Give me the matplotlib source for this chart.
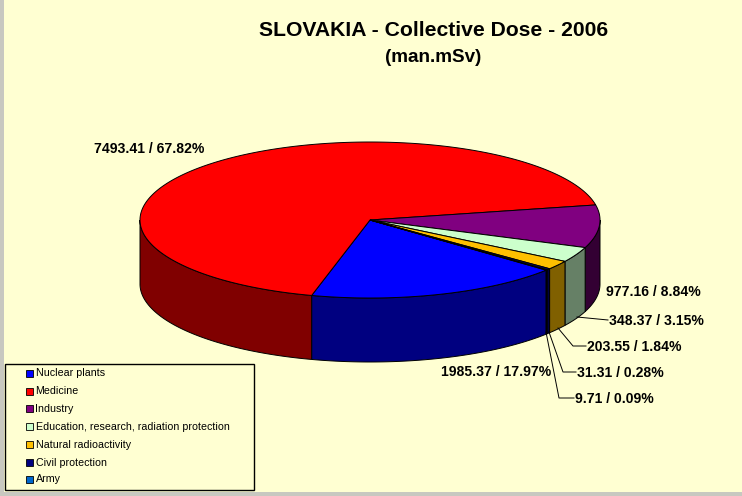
import numpy as np
import matplotlib
matplotlib.use("Agg")
import matplotlib.pyplot as plt
from matplotlib.patches import Polygon, Rectangle

plt.rcParams['font.family'] = ['Liberation Sans', 'DejaVu Sans']

# Data
categories = ["Nuclear plants", "Medicine", "Industry",
              "Education, research, radiation protection",
              "Natural radioactivity", "Civil protection", "Army"]
doses = [1985.37, 7493.41, 977.16, 348.37, 203.55, 31.31, 9.71]
percents = [17.97, 67.82, 8.84, 3.15, 1.84, 0.28, 0.09]
top_colors = ["#0000FF", "#FF0000", "#800080", "#CCFFCC", "#FFC000", "#000080", "#0066CC"]
side_colors = ["#000080", "#800000", "#330033", "#668066", "#806000", "#000040", "#003366"]

# Layout in image pixels
bg = "#FFFFD2"
cx, cy = 370, 220
rx, ry = 230, 78
depth = 64
start_angle = -40

# label position, then leader line points (empty = no leader)
label_xy = [(441, 372), (94, 149), (606, 292), (609, 321), (587, 347), (577, 373), (575, 399)]
leaders = [[], [], [],
           [(577, 317), (608, 320)],
           [(558, 328), (573, 346), (586, 346)],
           [(549, 332), (563, 372), (576, 372)],
           [(546, 332), (559, 398), (574, 398)]]
legend_rows = [373, 391, 408, 426, 444, 462, 479]

fig = plt.figure(figsize=(7.42, 4.96), dpi=100, facecolor=bg)
ax = fig.add_axes([0, 0, 1, 1])
ax.set_xlim(0, 742)
ax.set_ylim(496, 0)
ax.axis("off")

# window edges
ax.add_patch(Rectangle((0, 0), 4, 496, fc="#C8C8C0", ec="none"))
ax.add_patch(Rectangle((0, 492), 742, 4, fc="#C8C8C0", ec="none"))


def rim(a0, a1):
    t = np.radians(np.linspace(a0, a1, max(int(abs(a1 - a0) * 2), 2)))
    return np.column_stack([cx + rx * np.cos(t), cy - ry * np.sin(t)])


# slices run clockwise from the start angle
sweeps = np.array(percents) / sum(percents) * 360
ends = start_angle - np.cumsum(sweeps)
starts = ends + sweeps

# walls: only the front half of the rim shows
for a0, a1, c in zip(starts, ends, side_colors):
    for k in (0, 360):
        hi, lo = min(a0 + k, 0), max(a1 + k, -180)
        if hi <= lo:
            continue
        arc = rim(hi, lo)
        wall = np.vstack([arc, (arc + [0, depth])[::-1]])
        ax.add_patch(Polygon(wall, closed=True, fc=c, ec="black", lw=0.7, zorder=2))

# top faces
for a0, a1, c in zip(starts, ends, top_colors):
    face = np.vstack([[cx, cy], rim(a0, a1)])
    ax.add_patch(Polygon(face, closed=True, fc=c, ec="black", lw=0.7, zorder=3))

# titles
ax.text(433.5, 31, "SLOVAKIA - Collective Dose - 2006", fontsize=15.2, fontweight="bold",
        ha="center", va="center")
ax.text(433, 58, "(man.mSv)", fontsize=13.6, fontweight="bold", ha="center", va="center")

# value labels
for d, p, (x, y), pts in zip(doses, percents, label_xy, leaders):
    ax.text(x, y, f"{d:.2f} / {p:.2f}%", fontsize=10.1, fontweight="bold",
            ha="left", va="center", zorder=5)
    if pts:
        xs, ys = zip(*pts)
        ax.plot(xs, ys, color="black", lw=0.7, zorder=4)

# legend box
ax.add_patch(Rectangle((5, 364), 249, 126, fc=bg, ec="black", lw=1, zorder=5))
for name, c, y in zip(categories, top_colors, legend_rows):
    ax.add_patch(Rectangle((26, y - 3.5), 7, 7, fc=c, ec="black", lw=0.6, zorder=6))
    ax.text(35.5, y + 0.5, name, fontsize=7.7, ha="left", va="center", zorder=6)

fig.savefig("out.png", dpi=100, facecolor=bg)
